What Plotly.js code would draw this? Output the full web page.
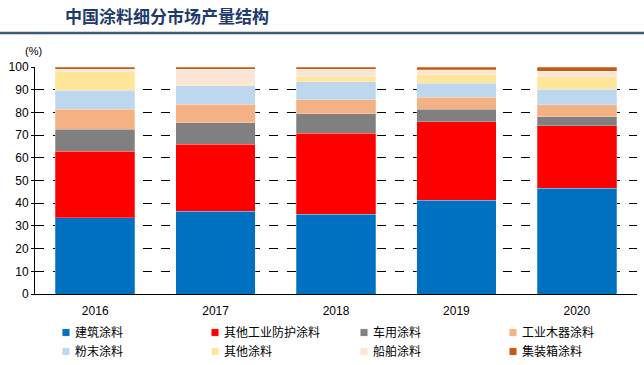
<!DOCTYPE html>
<html>
<head>
<meta charset="utf-8">
<script src="https://cdn.plot.ly/plotly-3.0.1.min.js"></script>
<style>
html,body{margin:0;padding:0;background:#fff;}
#chart{width:644px;height:365px;}
</style>
</head>
<body>
<div id="chart"></div>
<script>
const years = ["2016", "2017", "2018", "2019", "2020"];
const seriesNames = ["建筑涂料", "其他工业防护涂料", "车用涂料", "工业木器涂料", "粉末涂料", "其他涂料", "船舶涂料", "集装箱涂料"];
const jianzhu   = [33.6, 36.4, 35.2, 41.2, 46.6];
const gongye    = [29.2, 29.6, 35.6, 34.7, 27.5];
const cheyong   = [9.8, 9.5, 8.5, 5.6, 4.0];
const muqi      = [8.8, 8.2, 6.2, 5.1, 5.2];
const fenmo     = [8.4, 8.0, 8.0, 6.2, 6.9];
const qita      = [8.1, 0.5, 2.2, 3.7, 5.5];
const chuanbo   = [1.1, 6.8, 3.3, 2.2, 2.5];
const jizhuang  = [1.0, 1.0, 1.0, 1.3, 1.8];
const yTicks = [0, 10, 20, 30, 40, 50, 60, 70, 80, 90, 100];

const values = [jianzhu, gongye, cheyong, muqi, fenmo, qita, chuanbo, jizhuang];
const colors = ["#0070C0", "#FF0000", "#808080", "#F4B183", "#BDD7EE", "#FFE699", "#FBE5D6", "#C55A11"];

const traces = seriesNames.map((name, i) => ({
  type: "bar",
  name: name,
  x: years,
  y: values[i],
  marker: {color: colors[i], line: {color: "rgba(255,255,255,0.5)", width: 0.5}},
  hoverinfo: "x+y+name"
}));

const W = 644, H = 365, ML = 35, MR = 7, MT = 67, MB = 71;
const plotW = W - ML - MR, plotH = H - MT - MB;
function px2x(px){ return (px - ML) / plotW; }
function py2y(py){ return (H - MB - py) / plotH; }

const layout = {
  width: W, height: H,
  margin: {l: ML, r: MR, t: MT, b: MB, autoexpand: false},
  paper_bgcolor: "#fff", plot_bgcolor: "#fff",
  barmode: "stack",
  bargap: 0.34,
  font: {family: "Liberation Sans, Arial, sans-serif", size: 12, color: "#000"},
  xaxis: {
    type: "category",
    showline: true, linecolor: "#000", linewidth: 1,
    ticks: "", showgrid: false,
    ticklabelstandoff: 6,
    tickfont: {size: 12, color: "#000"}
  },
  yaxis: {
    range: [0, 100], tickvals: yTicks, ticktext: yTicks.map(String),
    showline: true, linecolor: "#000", linewidth: 1,
    ticks: "outside", ticklen: 3, tickcolor: "#000",
    showgrid: true, gridcolor: "#000", griddash: "dash", gridwidth: 1,
    zeroline: false,
    tickfont: {size: 12, color: "#000"}
  },
  showlegend: true,
  legend: {
    orientation: "h",
    x: px2x(35), xanchor: "left",
    y: py2y(318), yanchor: "top",
    entrywidth: 104, entrywidthmode: "pixels",
    itemwidth: 30,
    font: {family: "Noto Sans CJK SC, sans-serif", size: 12, color: "#000"},
    tracegroupgap: 0,
    traceorder: "normal",
    bgcolor: "rgba(0,0,0,0)"
  },
  annotations: [
    {text: "<b>中国涂料细分市场产量结构</b>", xref: "paper", yref: "paper",
     x: px2x(167), y: py2y(15), xanchor: "center", yanchor: "middle", showarrow: false,
     font: {family: "Noto Sans CJK SC, sans-serif", size: 17, color: "#1F3B6E"}},
    {text: "(%)", xref: "paper", yref: "paper",
     x: px2x(33), y: py2y(51), xanchor: "center", yanchor: "middle", showarrow: false,
     font: {family: "Liberation Sans, Arial, sans-serif", size: 11, color: "#000"}}
  ],
  shapes: [
    {type: "line", xref: "paper", yref: "paper", x0: px2x(0), x1: px2x(W), y0: py2y(33), y1: py2y(33),
     line: {color: "#3D5A73", width: 2.5}}
  ]
};

Plotly.newPlot("chart", traces, layout, {displayModeBar: false, staticPlot: true}).then(function(gd){
  // smaller legend swatches placed close to the text, as in the reference
  gd.querySelectorAll(".legend .legendpoints path").forEach(function(p){
    p.setAttribute("transform", "translate(31,0) scale(0.6)");
  });
});
</script>
</body>
</html>
